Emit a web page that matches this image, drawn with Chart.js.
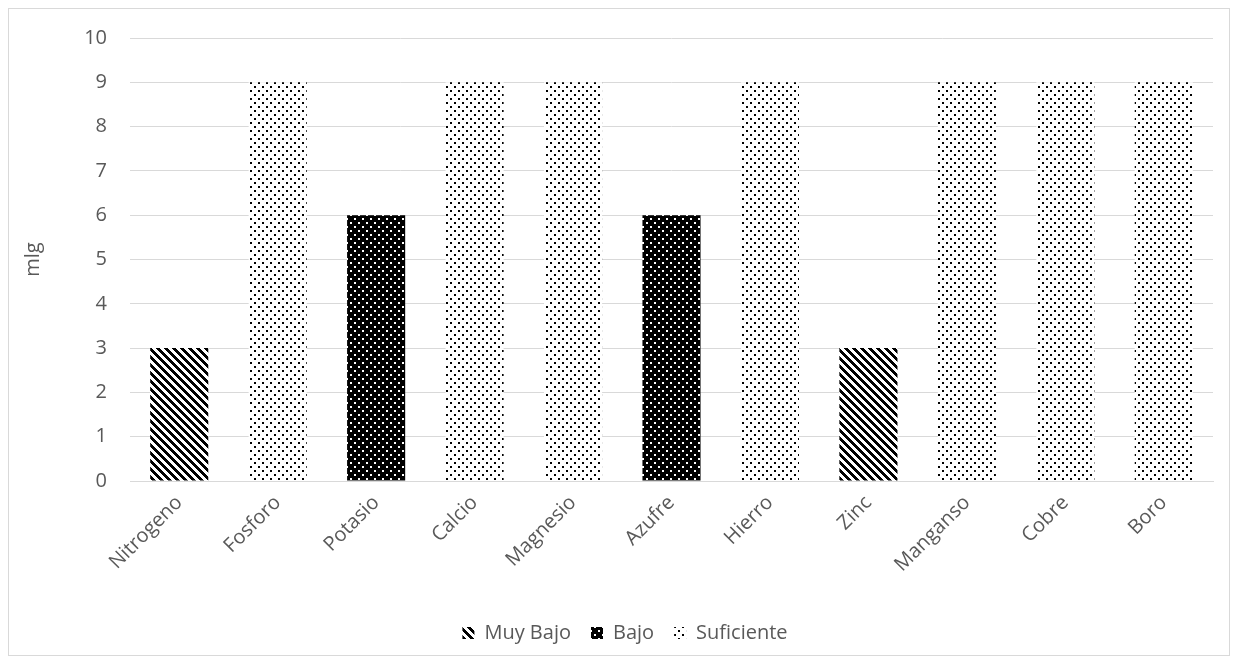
<!DOCTYPE html>
<html>
<head>
<meta charset="utf-8">
<script src="https://cdn.jsdelivr.net/npm/chart.js@4"></script>
<style>
  body { margin: 0; background: #fff; }
  #wrap { position: absolute; left: 8px; top: 8px; width: 1220px; height: 646px; border: 1px solid #d9d9d9; }
  canvas { display: block; }
</style>
</head>
<body>
<div id="wrap"><canvas id="chart" width="1220" height="646"></canvas></div>
<script>
// Nutrient levels per element
const nutrientes = ['Nitrogeno', 'Fosforo', 'Potasio', 'Calcio', 'Magnesio', 'Azufre',
                    'Hierro', 'Zinc', 'Manganso', 'Cobre', 'Boro'];
const muyBajo    = [3, null, null, null, null, null, null, 3, null, null, null];
const bajo       = [null, null, 6, null, null, 6, null, null, null, null, null];
const suficiente = [null, 9, null, 9, 9, null, 9, null, 9, 9, 9];
const yTicks = [0, 1, 2, 3, 4, 5, 6, 7, 8, 9, 10];

// small pixel-tile patterns for the bar fills
function tile(w, h, bg, draw) {
  const c = document.createElement('canvas');
  c.width = w; c.height = h;
  const g = c.getContext('2d');
  g.fillStyle = bg;
  g.fillRect(0, 0, w, h);
  draw(g);
  return g.createPattern(c, 'repeat');
}

const stripes = tile(8, 8, '#fff', g => {
  g.fillStyle = '#000';
  for (let y = 0; y < 8; y++)
    for (let x = 0; x < 8; x++)
      if (((x - y) % 8 + 8) % 8 < 4) g.fillRect(x, y, 1, 1);
});

const darkDots = tile(8, 8, '#000', g => {
  g.fillStyle = '#fff';
  g.fillRect(1, 1, 2, 2);
  g.fillRect(5, 5, 2, 2);
});

const lightDots = tile(8, 8, '#fff', g => {
  g.fillStyle = '#000';
  g.fillRect(1, 1, 2, 2);
  g.fillRect(5, 5, 2, 2);
});

const fontFam = '"Open Sans", "Noto Sans", sans-serif';
const gris = '#595959';

// nudge the legend row a little to the right
const legendShift = {
  id: 'legendShift',
  afterLayout(chart) {
    chart.legend.left += 14;
    chart.legend.right += 14;
  }
};

new Chart(document.getElementById('chart'), {
  type: 'bar',
  data: {
    labels: nutrientes,
    datasets: [
      { label: 'Muy Bajo', data: muyBajo, backgroundColor: stripes },
      { label: 'Bajo', data: bajo, backgroundColor: darkDots },
      { label: 'Suficiente', data: suficiente, backgroundColor: lightDots }
    ]
  },
  options: {
    responsive: false,
    animation: false,
    layout: { padding: { left: 0, right: 16, top: 29, bottom: 2 } },
    datasets: { bar: { categoryPercentage: 1, barPercentage: 0.59 } },
    plugins: {
      tooltip: { enabled: false },
      legend: {
        position: 'bottom',
        labels: {
          color: gris,
          font: { family: fontFam, size: 20 },
          boxWidth: 12,
          boxHeight: 12,
          padding: 20
        }
      }
    },
    scales: {
      x: {
        stacked: true,
        grid: { display: false },
        border: { color: '#d9d9d9' },
        ticks: {
          color: gris,
          font: { family: fontFam, size: 20 },
          minRotation: 45,
          maxRotation: 45,
          padding: 2
        },
        afterFit: s => { s.height = 122; }
      },
      y: {
        stacked: true,
        min: 0,
        max: 10,
        afterBuildTicks: s => { s.ticks = yTicks.map(v => ({ value: v })); },
        grid: { color: '#d9d9d9', drawTicks: false },
        border: { display: false },
        ticks: {
          color: gris,
          font: { family: fontFam, size: 20 },
          padding: 23
        },
        title: {
          display: true,
          text: 'mlg',
          color: gris,
          font: { family: fontFam, size: 20 },
          padding: { top: 12, bottom: 0 }
        },
        afterFit: s => { s.width = 121; s.paddingTop = 0; s.paddingBottom = 0; }
      }
    }
  },
  plugins: [legendShift]
});
</script>
</body>
</html>
